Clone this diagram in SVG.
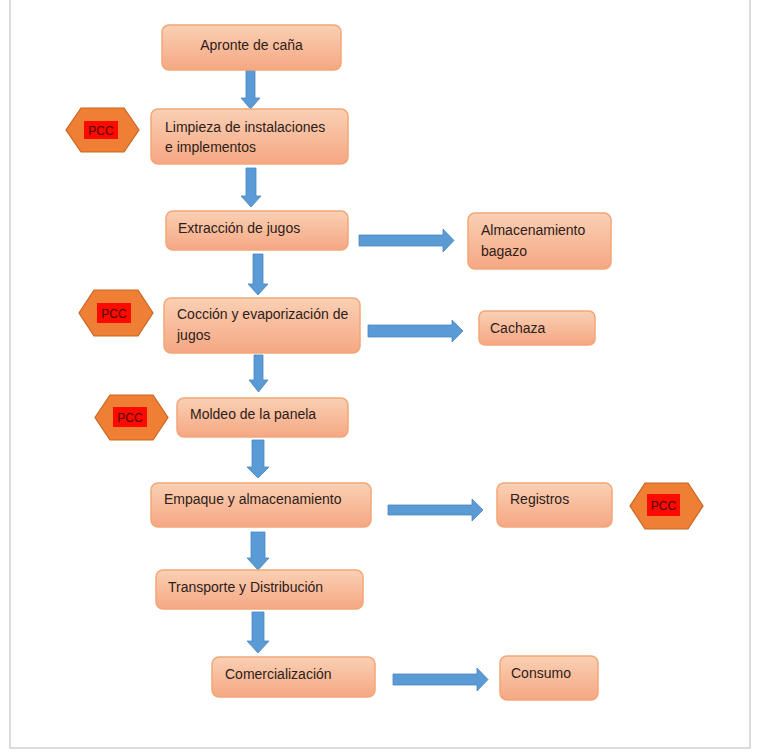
<svg xmlns="http://www.w3.org/2000/svg" width="759" height="752" viewBox="0 0 759 752">
<defs>
<linearGradient id="g" x1="0" y1="0" x2="0" y2="1">
<stop offset="0" stop-color="#FAD0B4"/>
<stop offset="1" stop-color="#F5A783"/>
</linearGradient>
<style>
.n{fill:url(#g);stroke:#F2A677;stroke-width:1.5}
.t{font-family:"Liberation Sans",Arial,sans-serif;font-size:14px;fill:#2e2018}
.h{fill:#EE7F35;stroke:#C8661F;stroke-width:1.2}
.r{fill:#FF0A00}
.p{font-family:"Liberation Sans",Arial,sans-serif;font-size:12px;fill:#4a0800;text-anchor:middle}
.a{fill:#5A9BD5;stroke:#4A86C0;stroke-width:0.8}
</style>
</defs>
<rect x="0" y="0" width="759" height="752" fill="#fff"/>
<rect x="10" y="-2" width="740" height="750" fill="none" stroke="#D0D0D0" stroke-width="1.5"/>

<g id="connectors">
<polygon class="a" points="246,70 255,70 255,98 260,98 250.5,109 241,98 246,98"/>
<polygon class="a" points="246,168 256,168 256,196 261,196 251,207 241,196 246,196"/>
<polygon class="a" points="253,254 263,254 263,284 268,284 258,295 248,284 253,284"/>
<polygon class="a" points="254,355 263,355 263,380 268,380 258.5,392 249,380 254,380"/>
<polygon class="a" points="252,440 264,440 264,467 269,467 258,478 247,467 252,467"/>
<polygon class="a" points="251,532 265,532 265,558 269,558 258,570 247,558 251,558"/>
<polygon class="a" points="252,612 264,612 264,641 269,641 258,653 247,641 252,641"/>
<polygon class="a" points="359,235 443,235 443,229 454,240.5 443,252 443,246 359,246"/>
<polygon class="a" points="368,325 452,325 452,320 463,331 452,342 452,337 368,337"/>
<polygon class="a" points="388,505 472,505 472,499 483,510 472,521 472,515 388,515"/>
<polygon class="a" points="393,674 477,674 477,668 488,679.5 477,691 477,685 393,685"/>
</g>

<g id="n1"><rect class="n" x="162" y="25" width="179" height="45" rx="7"/><text class="t" x="251.5" y="50" text-anchor="middle">Apronte de caña</text></g>
<g id="n2"><rect class="n" x="151" y="109" width="197" height="55" rx="7"/><text class="t" x="165" y="132">Limpieza de instalaciones</text><text class="t" x="165" y="152">e implementos</text></g>
<g id="n3"><rect class="n" x="166" y="211" width="182" height="39" rx="7"/><text class="t" x="178" y="233">Extracción de jugos</text></g>
<g id="n4"><rect class="n" x="468" y="213" width="143" height="56" rx="7"/><text class="t" x="481" y="235">Almacenamiento</text><text class="t" x="481" y="256">bagazo</text></g>
<g id="n5"><rect class="n" x="164" y="298" width="196" height="55" rx="7"/><text class="t" x="177" y="319">Cocción y evaporización de</text><text class="t" x="177" y="340">jugos</text></g>
<g id="n6"><rect class="n" x="479" y="311" width="116" height="34" rx="6"/><text class="t" x="490" y="333">Cachaza</text></g>
<g id="n7"><rect class="n" x="177" y="398" width="171" height="39" rx="7"/><text class="t" x="190" y="419">Moldeo de la panela</text></g>
<g id="n8"><rect class="n" x="151" y="483" width="220" height="44" rx="7"/><text class="t" x="164" y="504">Empaque y almacenamiento</text></g>
<g id="n9"><rect class="n" x="497" y="483" width="115" height="44" rx="7"/><text class="t" x="510" y="504">Registros</text></g>
<g id="n10"><rect class="n" x="156" y="570" width="207" height="39" rx="7"/><text class="t" x="168" y="592">Transporte y Distribución</text></g>
<g id="n11"><rect class="n" x="212" y="657" width="163" height="40" rx="7"/><text class="t" x="225" y="679">Comercialización</text></g>
<g id="n12"><rect class="n" x="500" y="656" width="98" height="44" rx="7"/><text class="t" x="511" y="678">Consumo</text></g>

<g id="pcc1"><polygon class="h" points="81,108 124,108 139,130 124,152 81,152 66,130"/><rect class="r" x="84" y="121" width="34" height="18"/><text class="p" x="101" y="134.5">PCC</text></g>
<g id="pcc2"><polygon class="h" points="94,290 138,290 153,313 138,336 94,336 79,313"/><rect class="r" x="97" y="303" width="34" height="20"/><text class="p" x="114" y="317.5">PCC</text></g>
<g id="pcc3"><polygon class="h" points="110,395 153,395 168,417.5 153,440 110,440 95,417.5"/><rect class="r" x="113" y="407" width="34" height="20"/><text class="p" x="130" y="421.5">PCC</text></g>
<g id="pcc4"><polygon class="h" points="645,483 688,483 703,506 688,529 645,529 630,506"/><rect class="r" x="647" y="494" width="33" height="22"/><text class="p" x="663.5" y="509.5">PCC</text></g>
</svg>
